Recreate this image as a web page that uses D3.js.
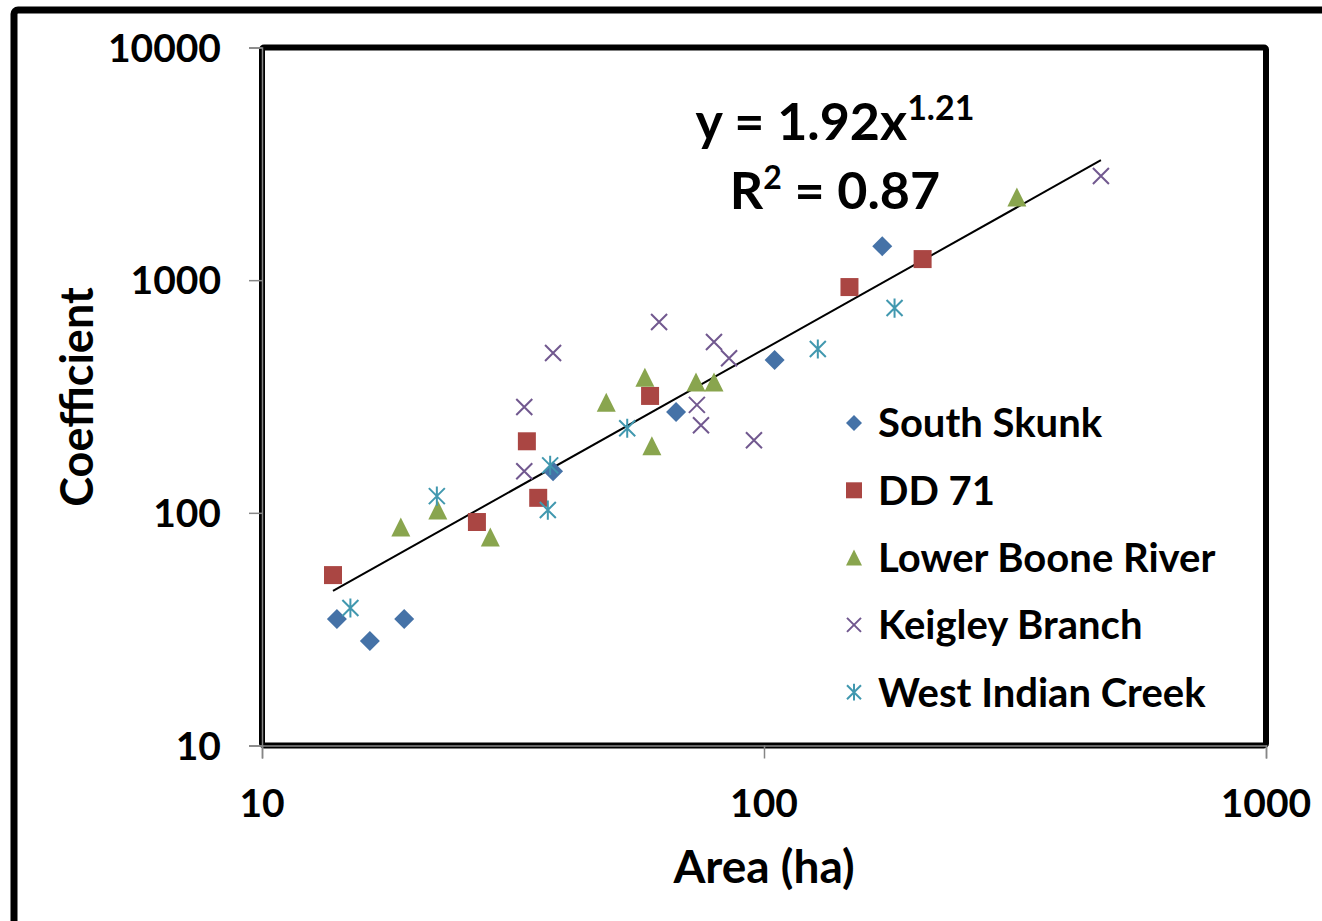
<!DOCTYPE html>
<html>
<head>
<meta charset="utf-8">
<script src="https://cdn.jsdelivr.net/npm/d3@7"></script>
<style>
  body { margin: 0; background: #fff; }
  text { font-family: Lato, "Open Sans", sans-serif; font-weight: bold; fill: #000; }
</style>
</head>
<body>
<div id="chart"></div>
<script>
// Series data (Area in ha, Coefficient)
const seriesNames = ["South Skunk", "DD 71", "Lower Boone River", "Keigley Branch", "West Indian Creek"];
const seriesColors = ["#4572A7", "#AA4643", "#89A54E", "#71588F", "#4198AF"];
const seriesShapes = ["diamond", "square", "triangle", "x", "star"];

const skunkArea = [14.1, 16.4, 19.2, 38.0, 66.8, 105, 172];
const skunkCoef = [35.0, 28.1, 35.0, 151, 271, 454, 1400];

const dd71Area = [13.85, 26.8, 33.7, 35.5, 59.3, 148, 207];
const dd71Coef = [54.0, 91.3, 203, 116, 318, 934, 1232];

const booneArea = [18.9, 22.4, 28.5, 48.5, 57.9, 59.8, 73.2, 79.5, 319];
const booneCoef = [86.9, 102.8, 78.7, 299, 383, 194, 365, 365, 2275];

const keigleyArea = [33.3, 33.3, 38.0, 61.8, 73.5, 74.9, 79.5, 85.2, 95.5, 469];
const keigleyCoef = [285, 151, 486, 661, 291, 238, 542, 462, 205, 2802];

const westArea = [15.0, 22.3, 37.1, 37.5, 53.4, 128, 182];
const westCoef = [39.0, 118, 102.8, 160, 231, 506, 759];

// Power trendline y = a * x^b
const trendCoef = [1.92, 1.21];
const trendRange = [13.85, 469];

const xTicks = [10, 100, 1000];
const yTicks = [10, 100, 1000, 10000];

const width = 1322, height = 921;
const plot = { left: 262, right: 1266, top: 47.5, bottom: 745.5 };

const svg = d3.select("#chart").append("svg")
    .attr("width", width)
    .attr("height", height);

// outer chart frame (runs off the right and bottom edge)
svg.append("rect")
    .attr("x", 14).attr("y", 10)
    .attr("width", 1340).attr("height", 940)
    .attr("rx", 4)
    .attr("fill", "#fff")
    .attr("stroke", "#000")
    .attr("stroke-width", 7);

const x = d3.scaleLog().domain([10, 1000]).range([plot.left, plot.right]);
const y = d3.scaleLog().domain([10, 10000]).range([plot.bottom, plot.top]);

// plot area border
svg.append("rect")
    .attr("x", plot.left).attr("y", plot.top)
    .attr("width", plot.right - plot.left)
    .attr("height", plot.bottom - plot.top)
    .attr("rx", 2)
    .attr("fill", "none")
    .attr("stroke", "#000")
    .attr("stroke-width", 6);

// axes (gray lines + ticks)
const xAxis = svg.append("g")
    .attr("transform", `translate(0,${plot.bottom})`)
    .call(d3.axisBottom(x).tickValues(xTicks).tickSize(13).tickFormat(""));
const yAxis = svg.append("g")
    .attr("transform", `translate(${plot.left},0)`)
    .call(d3.axisLeft(y).tickValues(yTicks).tickSize(13).tickFormat(""));
[xAxis, yAxis].forEach(g => {
    g.selectAll("path, line").attr("stroke", "#868686").attr("stroke-width", 1.5);
});

// tick labels
svg.append("g").selectAll("text")
    .data(xTicks).enter().append("text")
    .attr("x", d => x(d))
    .attr("y", 803)
    .attr("dy", "0.36em")
    .attr("text-anchor", "middle")
    .style("font-size", "39px")
    .text(d => d);

svg.append("g").selectAll("text")
    .data(yTicks).enter().append("text")
    .attr("x", 221)
    .attr("y", d => y(d))
    .attr("dy", "0.36em")
    .attr("text-anchor", "end")
    .style("font-size", "39px")
    .text(d => d);

// axis titles
svg.append("text")
    .attr("x", 764).attr("y", 866)
    .attr("dy", "0.36em")
    .attr("text-anchor", "middle")
    .style("font-size", "46px")
    .text("Area (ha)");

svg.append("text")
    .attr("transform", "translate(77,397) rotate(-90)")
    .attr("dy", "0.36em")
    .attr("text-anchor", "middle")
    .style("font-size", "45px")
    .text("Coefficient");

// marker shapes
function markerPath(shape, s) {
    const h = s / 2;
    if (shape == "diamond") return `M0,${-h}L${h},0L0,${h}L${-h},0Z`;
    if (shape == "square") return `M${-h},${-h}H${h}V${h}H${-h}Z`;
    if (shape == "triangle") return `M0,${-h}L${h},${h}L${-h},${h}Z`;
    if (shape == "x") return `M${-h},${-h}L${h},${h}M${-h},${h}L${h},${-h}`;
    return `M${-h},${-h}L${h},${h}M${-h},${h}L${h},${-h}M0,${-h * 1.2}V${h * 1.2}`;
}
function styleMarker(sel, i) {
    const shape = seriesShapes[i];
    if (shape == "x" || shape == "star") {
        sel.attr("fill", "none").attr("stroke", seriesColors[i]).attr("stroke-width", 2);
    } else {
        sel.attr("fill", seriesColors[i]);
    }
}

const series = [
    [skunkArea, skunkCoef],
    [dd71Area, dd71Coef],
    [booneArea, booneCoef],
    [keigleyArea, keigleyCoef],
    [westArea, westCoef]
];
const markerSize = [20, 18, 19, 16, 16];

// trendline
const trendLine = d3.line()
    .x(d => x(d))
    .y(d => y(trendCoef[0] * Math.pow(d, trendCoef[1])));
svg.append("path")
    .datum(trendRange)
    .attr("d", trendLine)
    .attr("fill", "none")
    .attr("stroke", "#000")
    .attr("stroke-width", 2);

// points
series.forEach((s, i) => {
    const pts = s[0].map((a, j) => [a, s[1][j]]);
    svg.append("g").selectAll("path")
        .data(pts).enter().append("path")
        .attr("d", markerPath(seriesShapes[i], markerSize[i]))
        .attr("transform", d => `translate(${x(d[0])},${y(d[1])})`)
        .call(styleMarker, i);
});

// regression equation
const eq = svg.append("text")
    .attr("x", 835).attr("y", 140)
    .attr("text-anchor", "middle")
    .style("font-size", "52px");
eq.append("tspan").text("y = 1.92x");
eq.append("tspan").attr("dy", -20).style("font-size", "34px").text("1.21");

const r2 = svg.append("text")
    .attr("x", 835).attr("y", 209)
    .attr("text-anchor", "middle")
    .style("font-size", "52px");
r2.append("tspan").text("R");
r2.append("tspan").attr("dy", -20).style("font-size", "32px").text("2");
r2.append("tspan").attr("dy", 20).text(" = 0.87");

// legend
const legend = svg.append("g");
seriesNames.forEach((name, i) => {
    const ly = 423 + i * 67.3;
    legend.append("path")
        .attr("d", markerPath(seriesShapes[i], i < 3 ? 16 : 14))
        .attr("transform", `translate(854,${ly})`)
        .call(styleMarker, i);
    legend.append("text")
        .attr("x", 878).attr("y", ly)
        .attr("dy", "0.36em")
        .style("font-size", "40px")
        .text(name);
});
</script>
</body>
</html>
